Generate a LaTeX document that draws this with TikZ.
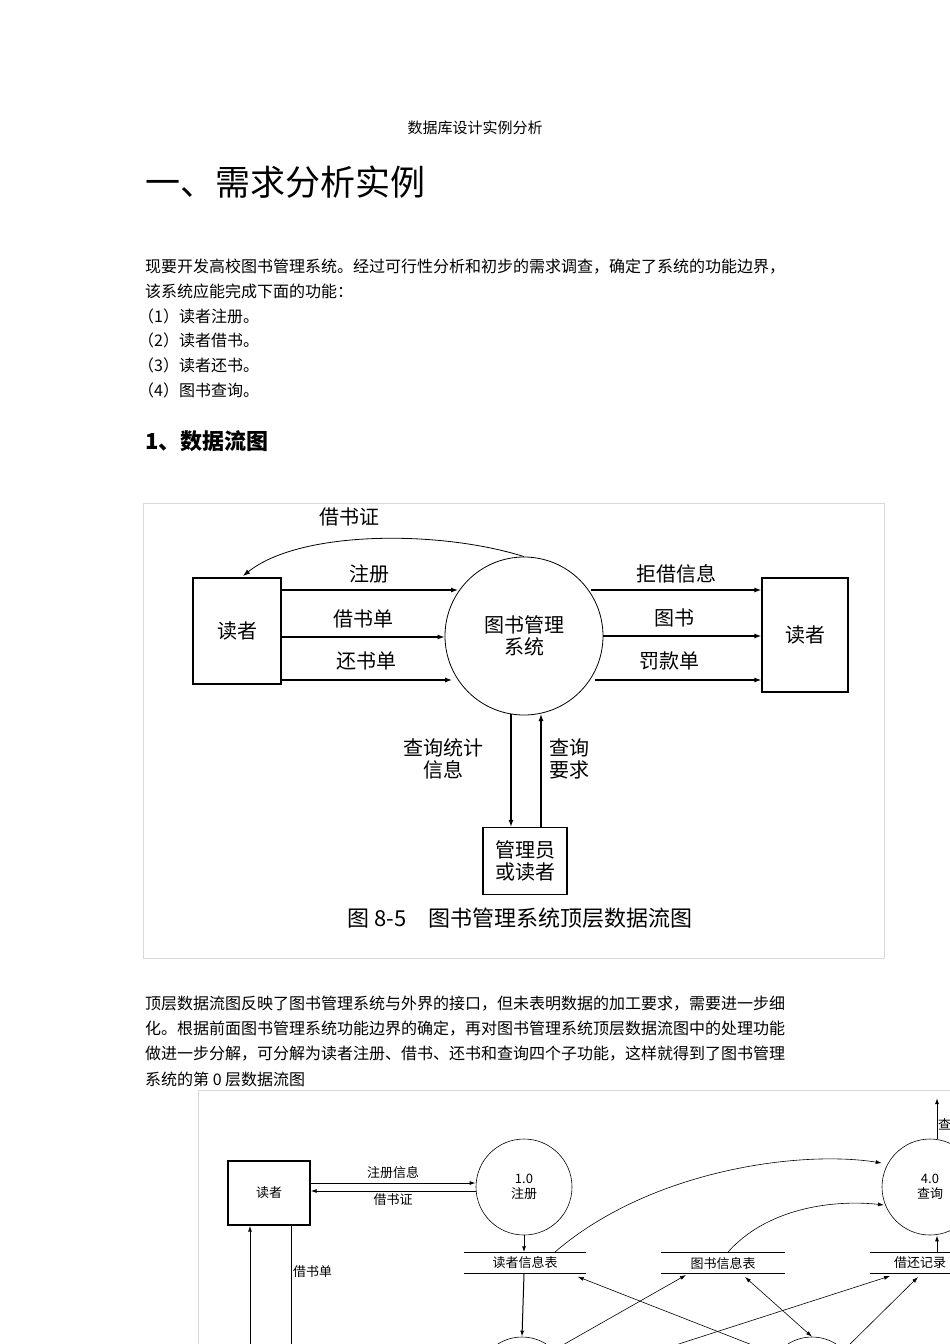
\documentclass[tikz,border=0pt]{standalone}
\usepackage{fontspec}
\setmainfont{Noto Sans CJK SC}
\newfontfamily\cjk{Noto Sans CJK SC}
\usetikzlibrary{arrows.meta}
\begin{document}
\begin{tikzpicture}[x=1pt,y=-1pt,
  box/.style={draw,line width=1.2pt,inner sep=0pt},
  flow/.style={-{Latex[length=7pt,width=5pt]},line width=1.2pt},
  thin/.style={-{Latex[length=6pt,width=4pt]},line width=0.6pt},
  lab/.style={font=\fontsize{20}{22}\selectfont,align=center,inner sep=0pt},
  slab/.style={font=\fontsize{13}{15}\selectfont,align=center,inner sep=0pt},
  body/.style={font=\fontsize{16}{18}\selectfont,anchor=west,inner sep=0pt}]
\useasboundingbox (0,0) rectangle (950,1344);
\fill[white] (0,0) rectangle (950,1344);
\clip (0,0) rectangle (950,1344);
\node[inner sep=0pt,font=\fontsize{15}{17}\selectfont] (t) at (475,128) {数据库设计实例分析};
\node[body,font=\fontsize{35}{37}\selectfont] (h1) at (145,182) {一、需求分析实例};
\node[body] (p1) at (145,267) {现要开发高校图书管理系统。经过可行性分析和初步的需求调查，确定了系统的功能边界，};
\node[body] (p2) at (145,291) {该系统应能完成下面的功能：};
\node[body] (p3) at (138,316) {（1）读者注册。};
\node[body] (p4) at (138,340) {（2）读者借书。};
\node[body] (p5) at (138,365) {（3）读者还书。};
\node[body] (p6) at (138,390) {（4）图书查询。};
\node[body,font=\fontsize{22}{24}\selectfont\bfseries] (h2) at (145,441) {1、数据流图};
% figure 1
\draw[gray!30] (143,503) rectangle (884,958);
\node[box,minimum width=88pt,minimum height=106pt,lab] (r1) at (237,631) {读者};
\node[box,minimum width=86pt,minimum height=114pt,lab] (r2) at (805,635) {读者};
\node[box,minimum width=84pt,minimum height=67pt,lab] (m) at (525,861) {管理员\\或读者};
\node[draw,circle,minimum size=158pt,line width=0.8pt,lab] (s) at (524,636) {图书管理\\系统};
\draw[flow] (r1.east|-0,590) -- (458,590) node[lab,midway,above=6pt] (l1) {注册};
\draw[flow] (r1.east|-0,637) -- (s.west|-0,637) node[lab,midway,above=8pt] (l2) {借书单};
\draw[flow] (r1.east|-0,680) -- (452,680) node[lab,midway,above=9pt] (l3) {还书单};
\draw[flow] (591,590) -- (r2.west|-0,590) node[lab,pos=0.5,above=6pt] (l4) {拒借信息};
\draw[flow] (s.east|-0,636) -- (r2.west|-0,636) node[lab,pos=0.45,above=8pt] (l5) {图书};
\draw[flow] (595,680) -- (r2.west|-0,680) node[lab,pos=0.45,above=9pt] (l6) {罚款单};
\draw[flow] (511,714) -- (m.north-|511,0);
\draw[flow] (m.north-|541,0) -- (541,714);
\node[lab] (l7) at (443,759) {查询统计\\信息};
\node[lab] (l8) at (569,759) {查询\\要求};
\draw[flow,line width=0.8pt] (s.north) .. controls (440,530) and (300,530) .. (243,576);
\node[lab] (l9) at (349,517) {借书证};
\node[lab,font=\fontsize{22}{24}\selectfont] (cap) at (520,918) {图 8-5\quad 图书管理系统顶层数据流图};
% para 2
\node[body] (q1) at (145,1004) {顶层数据流图反映了图书管理系统与外界的接口，但未表明数据的加工要求，需要进一步细};
\node[body] (q2) at (145,1029) {化。根据前面图书管理系统功能边界的确定，再对图书管理系统顶层数据流图中的处理功能};
\node[body] (q3) at (145,1054) {做进一步分解，可分解为读者注册、借书、还书和查询四个子功能，这样就得到了图书管理};
\node[body] (q4) at (145,1079) {系统的第 0 层数据流图};
% figure 2
\draw[gray!30] (198,1090) -- (960,1090) (198,1090) -- (198,1350);
\node[box,minimum width=82pt,minimum height=64pt,slab] (a) at (269,1193) {读者};
\node[draw,circle,minimum size=96pt,line width=0.6pt,slab] (c1) at (524,1187) {1.0\\注册};
\node[draw,circle,minimum size=96pt,line width=0.6pt,slab] (c4) at (930,1187) {4.0\\查询};
\node[draw,circle,minimum size=90pt,line width=0.6pt] (c2) at (522,1382) {};
\node[draw,circle,minimum size=90pt,line width=0.6pt] (c3) at (812,1382) {};
\node[slab,anchor=west] (qq) at (938,1124) {查};
\draw[thin,line width=1pt] (c4.north-|937,0) -- (937,1098);
\foreach \n/\x/\w/\t in {d1/525/121/读者信息表, d2/723/124/图书信息表, d3/920/100/借还记录}{
  \node[slab,minimum width=\w pt,minimum height=21pt] (\n) at (\x,1263) {\t};
  \draw[line width=1.2pt] (\n.north west) -- (\n.north east);
  \draw[line width=0.6pt] (\n.south west) -- (\n.south east);
}
\draw[thin,line width=1pt] (a.east|-0,1183) -- (c1.west|-0,1183) node[slab,midway,above=4pt] (f1) {注册信息};
\draw[thin,line width=1pt] (c1.west|-0,1191) -- (a.east|-0,1191) node[slab,midway,below=2pt] (f2) {借书证};
\draw[thin,line width=1pt] (c1.south) -- (d1.north-|c1.south);
\draw[thin,line width=1pt] (d1.south-|c1.south) -- (c2.north);
\draw[thin,line width=1pt] (250,1350) -- (a.south-|250,0);
\draw[line width=0.6pt] (a.south-|291,0) -- (291,1350);
\node[slab,anchor=west] (f3) at (293,1272) {借书单};
\draw[thin] (555,1252) .. controls (650,1170) and (800,1150) .. (c4.west|-0,1163);
\draw[thin] (728,1252) .. controls (770,1205) and (840,1200) .. (884,1205);
\draw[thin,line width=1pt] (d3.north-|937,0) -- (c4.south-|937,0);
\draw[thin,{Latex[length=6pt,width=4pt]}-] (d1.south east) ++(-8,3) -- (765,1350);
\draw[thin,{Latex[length=6pt,width=4pt]}-{Latex[length=6pt,width=4pt]}] (686,1275) -- (c2.north east);
\draw[thin,{Latex[length=6pt,width=4pt]}-{Latex[length=6pt,width=4pt]}] (745,1277) -- (c3.north);
\draw[thin,-{Latex[length=6pt,width=4pt]}] (660,1350) -- (890,1276);
\draw[thin,{Latex[length=6pt,width=4pt]}-{Latex[length=6pt,width=4pt]}] (918,1277) -- (c3.north east);
\end{tikzpicture}
\end{document}
